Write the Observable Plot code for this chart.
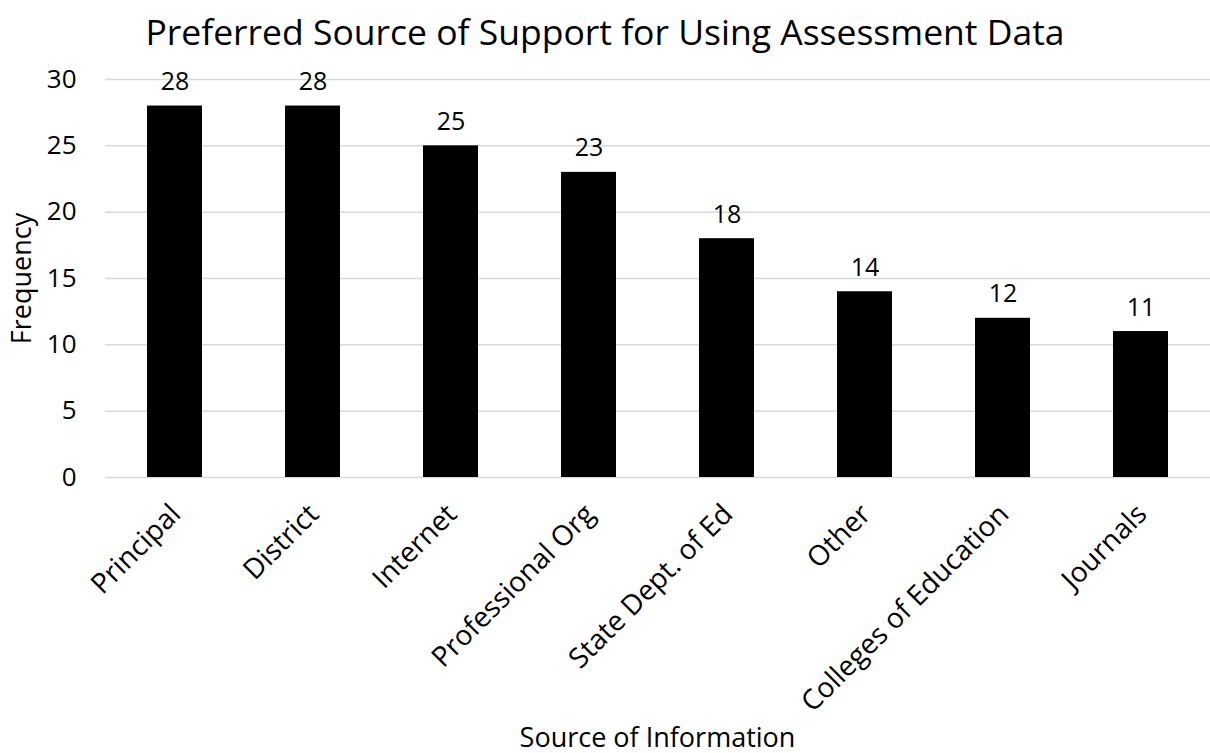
<!DOCTYPE html>
<html>
<head>
<meta charset="utf-8">
<script src="https://cdn.jsdelivr.net/npm/d3@7"></script>
<script src="https://cdn.jsdelivr.net/npm/@observablehq/plot@0.6"></script>
<style>
  html, body { margin: 0; padding: 0; background: #fff; }
  body { width: 1210px; height: 753px; overflow: hidden; font-family: "Open Sans", sans-serif; position: relative; }
  #title { position: absolute; left: 0; top: 0; width: 1210px; height: 62px; line-height: 62px; text-align: center; font-size: 35.5px; color: #000; white-space: nowrap; z-index: 2; }
  #chart { position: absolute; left: 0; top: 0; }
  #xlabel { position: absolute; left: 105px; width: 1105px; top: 723px; text-align: center; font-size: 27px; line-height: 28px; color: #000; white-space: nowrap; }
</style>
</head>
<body>
<div id="chart"></div>
<div id="title">Preferred Source of Support for Using Assessment Data</div>
<div id="xlabel">Source of Information</div>
<script>
const categories = ["Principal", "District", "Internet", "Professional Org", "State Dept. of Ed", "Other", "Colleges of Education", "Journals"];
const frequencies = [28, 28, 25, 23, 18, 14, 12, 11];
const yTicks = [0, 5, 10, 15, 20, 25, 30];

const data = categories.map((c, i) => ({source: c, value: frequencies[i]}));

const chart = Plot.plot({
  width: 1210,
  height: 722,
  marginLeft: 105,
  marginRight: 0,
  marginTop: 79,
  marginBottom: 245,
  style: {fontFamily: "Open Sans, sans-serif", fontSize: "25px", color: "#000", background: "transparent", overflow: "visible"},
  x: {domain: categories, paddingInner: 0.6, paddingOuter: 0.3, label: null},
  y: {domain: [0, 30], ticks: yTicks, label: null},
  marks: [
    Plot.gridY(yTicks, {stroke: "#d9d9d9", strokeOpacity: 1, strokeWidth: 1.5}),
    Plot.barY(data, {x: "source", y: "value", fill: "#000"}),
    Plot.text(data, {x: "source", y: "value", text: d => String(d.value), dy: -24, fontSize: 25, fill: "#000"}),
    Plot.axisY(yTicks, {tickSize: 0, tickPadding: 29, fontSize: 26, label: null}),
    Plot.axisX({tickSize: 0, tickRotate: -45, tickPadding: 32, dx: 1, fontSize: 28, label: null}),
    Plot.text(["Frequency"], {frameAnchor: "left", textAnchor: "middle", dx: -83, rotate: -90, fontSize: 27, fill: "#000"})
  ]
});
document.getElementById("chart").appendChild(chart);
</script>
</body>
</html>
